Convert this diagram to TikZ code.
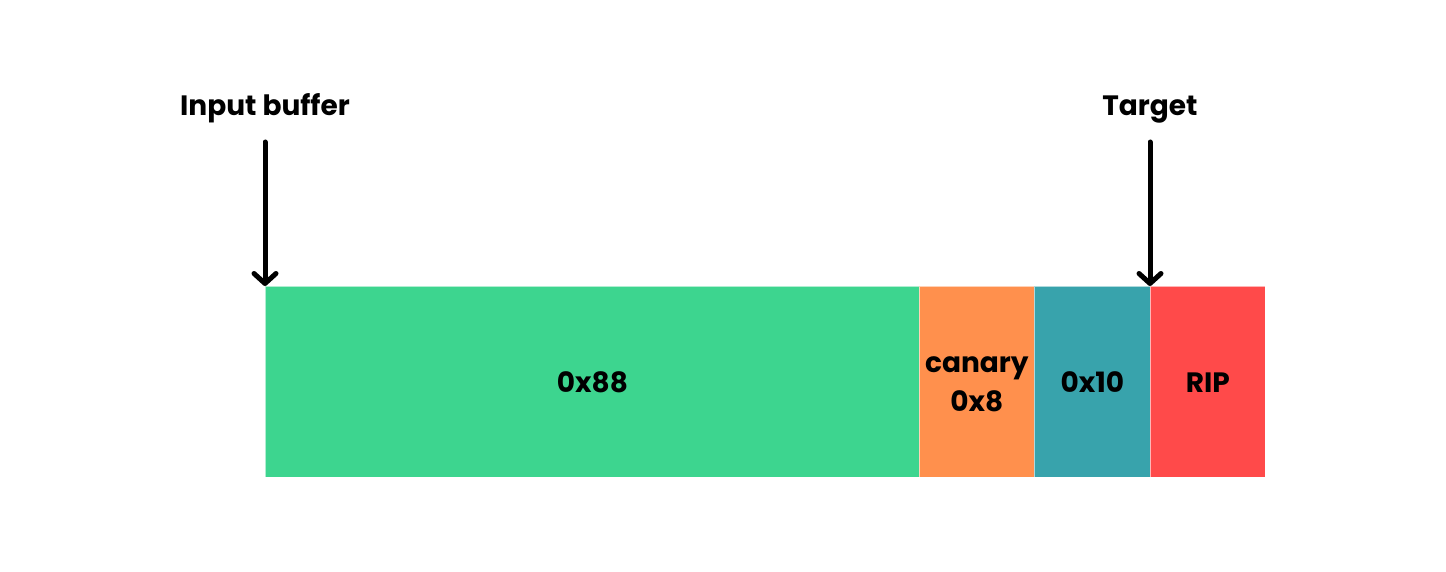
\documentclass[tikz,border=0pt]{standalone}
\usepackage{fontspec}
\setmainfont{Poppins}[BoldFont={* Bold}]
\usetikzlibrary{arrows.meta}
\definecolor{cgreen}{HTML}{3DD58F}
\definecolor{corange}{HTML}{FF904D}
\definecolor{cteal}{HTML}{38A3AC}
\definecolor{cred}{HTML}{FF4A4A}
\begin{document}
\begin{tikzpicture}[x=1pt,y=-1pt,
  seg/.style={draw=white, draw opacity=0.6, line width=0.8pt, inner sep=0pt, font=\fontsize{28}{39}\selectfont\bfseries, align=center},
  lbl/.style={font=\fontsize{28}{32}\selectfont\bfseries, inner sep=0pt, anchor=base},
  pointer/.style={line width=5pt, line cap=round, -{Straight Barb[length=10pt,width=22pt,line cap=round,line join=round]}}]
\useasboundingbox (0,0) rectangle (1446,572);
\fill[white] (0,0) rectangle (1446,572);
\node[seg, fill=cgreen, minimum width=654pt, minimum height=191pt, anchor=north west] (g) at (265,286) {};
\node[seg, fill=corange, minimum width=115pt, minimum height=191pt, anchor=north west] (o) at (919,286) {};
\node[seg, fill=cteal, minimum width=116pt, minimum height=191pt, anchor=north west] (t) at (1034,286) {};
\node[seg, fill=cred, minimum width=115pt, minimum height=191pt, anchor=north west] (r) at (1150,286) {};
\node[lbl] (gt) at (g.center |- 0,392) {0x88};
\node[lbl] (ot1) at (o.center |- 0,372) {canary};
\node[lbl] (ot2) at (o.center |- 0,411) {0x8};
\node[lbl] (tt) at (t.center |- 0,392) {0x10};
\node[lbl] (rt) at (r.center |- 0,392) {RIP};
\node[lbl] (inb) at (265,116) {Input buffer};
\node[lbl] (tgt) at (1150,116) {Target};
\coordinate (inbs) at (265,142);
\coordinate (tgts) at (1150,142);
\draw[pointer] (inbs) -- (g.north west);
\draw[pointer] (tgts) -- (r.north west);
\end{tikzpicture}
\end{document}
